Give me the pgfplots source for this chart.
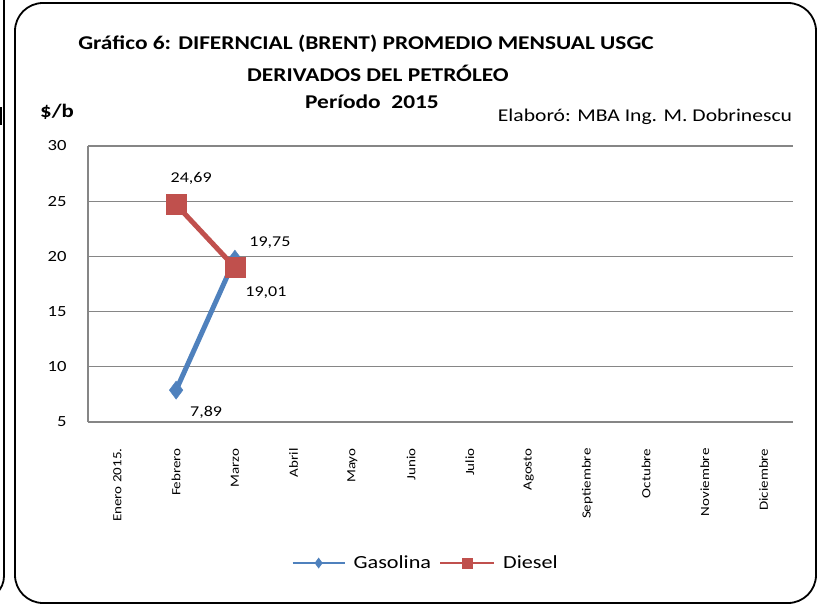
\documentclass[border=0pt]{standalone}
\usepackage{fontspec}
\setmainfont{Carlito}[FakeStretch=1.2]
\usepackage{pgfplots}
\pgfplotsset{compat=1.18}
\definecolor{gasblue}{HTML}{4F81BD}
\definecolor{dieselred}{HTML}{C0504D}
\definecolor{gridgray}{HTML}{868686}
\begin{document}
\begin{tikzpicture}[x=1pt,y=1pt]
\path[use as bounding box] (0,0) rectangle (819,606);
% frames
\begin{scope}
\clip (0,0) rectangle (819,606);
\draw[line width=1.8pt] (4,610) -- (4,30) arc[start angle=0,end angle=-90,radius=24];
\fill (0,481) rectangle (2,499);
\draw[line width=1.8pt, rounded corners=28pt] (15,3) rectangle (816,603);
\end{scope}
% titles
\node[font=\fontsize{19.5}{23}\selectfont\bfseries] at (366,562) {Gráfico 6: DIFERNCIAL (BRENT) PROMEDIO MENSUAL USGC};
\node[font=\fontsize{19.5}{23}\selectfont\bfseries] at (378,533) {DERIVADOS DEL PETRÓLEO};
\node[font=\fontsize{19.5}{23}\selectfont\bfseries] at (372,504) {Período\ \ 2015};
\node[font=\fontsize{19}{22}\selectfont\bfseries] at (57,494) {\$/b};
\node[font=\fontsize{18}{21}\selectfont] at (645,489) {Elaboró: MBA Ing. M. Dobrinescu};
\begin{axis}[
  scale only axis,
  width=705pt, height=276pt,
  at={(88pt,184pt)}, anchor=south west,
  xmin=-0.5, xmax=11.5,
  ymin=5, ymax=30,
  ytick={5,10,...,30},
  xtick={0,...,11},
  xticklabels={Enero 2015.,Febrero,Marzo,Abril,Mayo,Junio,Julio,Agosto,Septiembre,Octubre,Noviembre,Diciembre},
  x tick label style={rotate=90, anchor=east, font=\fontsize{12.5}{15}\selectfont, xshift=-1pt},
  y tick label style={font=\fontsize{15.5}{18}\selectfont},
  /pgf/number format/assume math mode=true,
  major tick length=0pt,
  xtick pos=bottom, ytick pos=left,
  xticklabel shift=22pt, yticklabel shift=18pt,
  axis x line*=bottom, axis y line*=left,
  axis line style={gridgray, line width=1.3pt},
  ymajorgrids,
  grid style={gridgray, line width=1.3pt},
  clip=false,
  legend columns=2,
  legend style={at={(0.479,-0.511)}, anchor=center, draw=none, fill=none,
    font=\fontsize{18.5}{22}\selectfont, column sep=6pt},
  visualization depends on={\thisrow{dx}\as\dx},
  visualization depends on={\thisrow{dy}\as\dy},
  nodes near coords={\pgfmathprintnumber[assume math mode=true,use comma,fixed,fixed zerofill,precision=2]{\pgfplotspointmeta}},
  nodes near coords style={font=\fontsize{15}{18}\selectfont, text=black, anchor=center, xshift=\dx pt, yshift=\dy pt},
]
\addplot[gasblue, line width=5pt, mark=diamond*, mark size=9pt,
  mark options={line width=0.5pt},
  legend image code/.code={
    \draw[gasblue, line width=2pt] (0pt,0pt) -- (52pt,0pt);
    \fill[gasblue, draw=none, line width=0pt] (26pt,-5.5pt) -- (30pt,0pt) -- (26pt,5.5pt) -- (22pt,0pt) -- cycle;}]
  table[x=x, y=y, meta=y] {
x y dx dy
1 7.89 30 -22
2 19.75 35 17
};
\addlegendentry{Gasolina}
\addplot[dieselred, line width=5pt, mark=square*, mark size=10pt,
  mark options={line width=0.5pt},
  legend image code/.code={
    \draw[dieselred, line width=2pt] (0pt,0pt) -- (54pt,0pt);
    \fill[dieselred, draw=none, line width=0pt] (21.5pt,-5.5pt) rectangle (32.5pt,5.5pt);}]
  table[x=x, y=y, meta=y] {
x y dx dy
1 24.69 15 26.6
2 19.01 31 -25.7
};
\addlegendentry{Diesel}
\end{axis}
\end{tikzpicture}
\end{document}
